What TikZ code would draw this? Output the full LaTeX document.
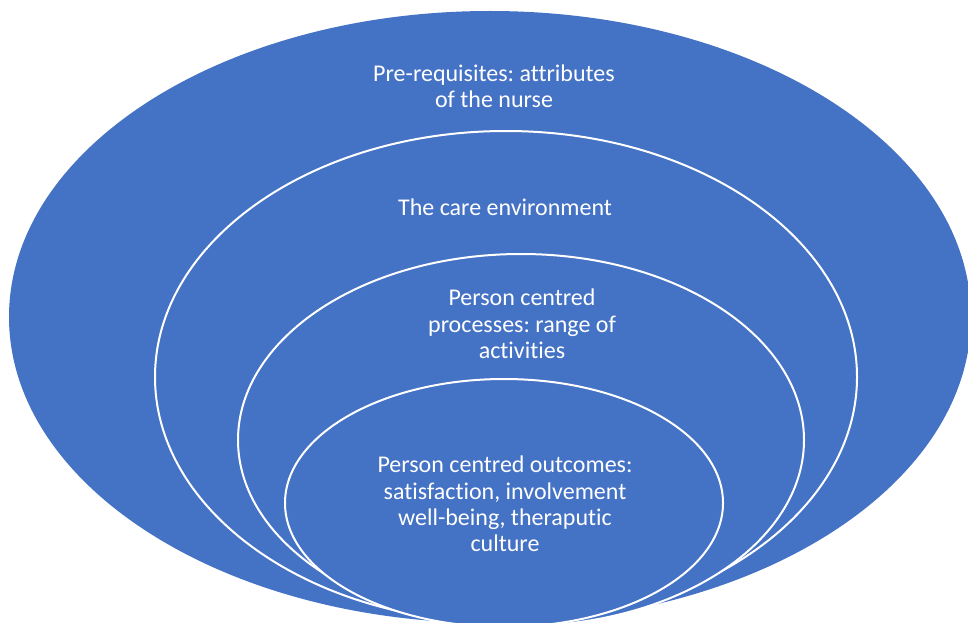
\documentclass[tikz,border=0pt]{standalone}
\usepackage{fontspec}
\setmainfont[Ligatures=NoCommon]{Carlito}
\usetikzlibrary{shapes.geometric}
\definecolor{ringblue}{HTML}{4472C4}
\frenchspacing
\begin{document}
\begin{tikzpicture}[x=1pt, y=-1pt,
    ring/.style={ellipse, fill=ringblue, draw=white, line width=2pt, inner sep=0pt},
    ringtext/.style={text=white, align=center, font=\fontsize{24}{26.4}\selectfont}]
  \useasboundingbox (0,0) rectangle (968,623);

  % Aneis
  \node[ring, draw=none, minimum width=962pt, minimum height=612pt] (nurse) at (490,317) {};
  \node[ring, minimum width=702pt, minimum height=492pt] (env) at (506,377) {};
  \node[ring, minimum width=566pt, minimum height=372pt] (proc) at (521,440) {};
  \node[ring, minimum width=438pt, minimum height=248pt] (outc) at (504,503) {};

  % Textos
  \node[ringtext] (nursetxt) at (494,86) {Pre-requisites: attributes\\of the nurse};
  \node[ringtext] (envtxt) at (505,207) {The care environment};
  \node[ringtext] (proctxt) at (522,324) {Person centred\\processes: range of\\activities};
  \node[ringtext] (outctxt) at (505,504) {Person centred outcomes:\\satisfaction, involvement\\well-being, theraputic\\culture};
\end{tikzpicture}
\end{document}
